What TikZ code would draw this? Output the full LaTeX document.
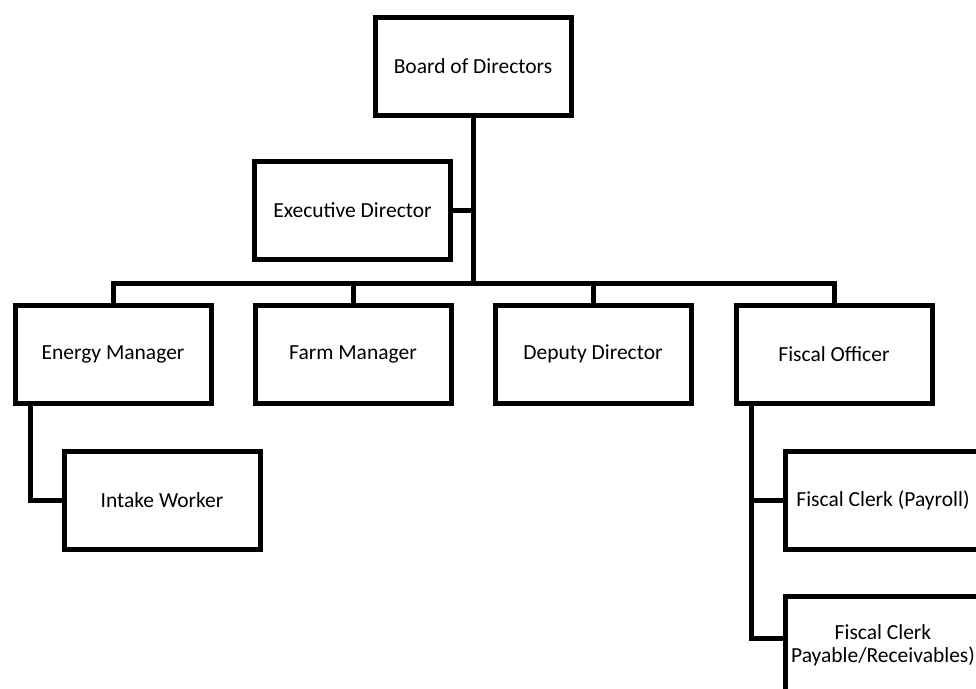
\documentclass[tikz,border=0pt]{standalone}
\usepackage{fontspec}
\setmainfont{Carlito}
\usepackage{tikz}

\tikzset{
	post/.style={draw, rectangle, line width=5pt, fill=white,
		minimum width=196pt, minimum height=98pt, inner sep=2pt,
		font=\fontsize{21.5}{23}\selectfont, align=center},
	link/.style={line width=5pt}
}

\begin{document}
\begin{tikzpicture}[x=1pt, y=-1pt]
	\newcommand\dstem{18pt}
	\newcommand\dbus{283}
	
	\clip (0,0) rectangle (976,688);
	\fill[white] (0,0) rectangle (976,688);
	
	\node[post] (board) at (473,66.5) {Board of Directors};
	\node[post] (exec) at (352.5,210.5) {Executive Director};
	
	\node[post] (energy) at (113,354) {Energy Manager};
	\node[post] (farm) at (353,354) {Farm Manager};
	\node[post] (deputy) at (593,354) {Deputy Director};
	\node[post] (fiscal) at (834,354) {Fiscal Officer};
	
	\node[post] (intake) at (162,500) {Intake Worker};
	\node[post] (payroll) at (883,500) {Fiscal Clerk (Payroll)};
	\node[post] (payables) at (883,645) {Fiscal Clerk\\Payable/Receivables)};
	
	\coordinate (bus) at (473,\dbus);
	
	\draw[link] (board.south) -- (bus);
	\draw[link] (exec.east) -- (exec.east -| board.south);
	\draw[link] (energy.north) -- (energy.north |- bus) -- (fiscal.north |- bus) -- (fiscal.north);
	\draw[link] (farm.north) -- (farm.north |- bus);
	\draw[link] (deputy.north) -- (deputy.north |- bus);
	
	\draw[link] ([xshift=\dstem]energy.south west) |- (intake.west);
	\draw[link] ([xshift=\dstem]fiscal.south west) |- ([yshift=7pt]payables.west);
	\draw[link] ([xshift=\dstem]fiscal.south west |- payroll.west) -- (payroll.west);
	
\end{tikzpicture}
\end{document}
